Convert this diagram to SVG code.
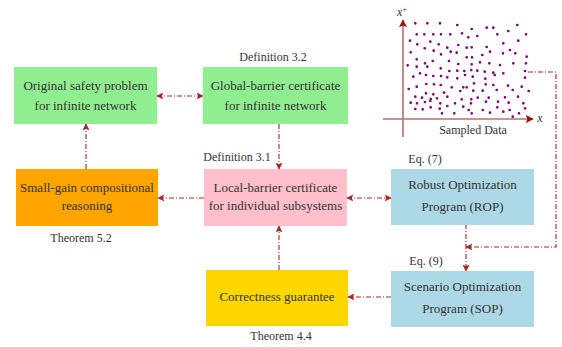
<svg xmlns="http://www.w3.org/2000/svg" width="562" height="347" viewBox="0 0 562 347">
<style>
.t{font-family:'Liberation Serif',serif;font-size:13px;fill:#333;text-anchor:middle}
.l{font-family:'Liberation Serif',serif;font-size:12px;fill:#333;text-anchor:middle}
.v{font-family:'Liberation Serif',serif;font-size:12px;font-style:italic;fill:#333;text-anchor:middle}
.c{fill:none;stroke:#b22222;stroke-width:1.1;stroke-dasharray:5,2,1,2}
.ax{stroke:#b87070;stroke-width:1.6;fill:none}
</style>
<defs>
<marker id="ah" viewBox="0 0 10 10" refX="9" refY="5" markerWidth="7" markerHeight="7" markerUnits="userSpaceOnUse" orient="auto-start-reverse">
<path d="M0,0 L10,5 L0,10 L2,5 z" fill="#b22222"/>
</marker>
<marker id="axh" viewBox="0 0 10 10" refX="9" refY="5" markerWidth="8" markerHeight="8" markerUnits="userSpaceOnUse" orient="auto">
<path d="M0,0 L10,5 L0,10 L2,5 z" fill="#a01010"/>
</marker>
</defs>
<rect width="562" height="347" fill="#fff"/>

<g id="connectors">
<path class="c" d="M157,96 H203" marker-start="url(#ah)" marker-end="url(#ah)"/>
<path class="c" d="M279,124 V169" marker-end="url(#ah)"/>
<path class="c" d="M204,198 H158" marker-end="url(#ah)"/>
<path class="c" d="M86,169 V124" marker-end="url(#ah)"/>
<path class="c" d="M347,198 H391" marker-start="url(#ah)" marker-end="url(#ah)"/>
<path class="c" d="M466,224 V271" marker-end="url(#ah)"/>
<path class="c" d="M528,72 H556 V247 H466" marker-end="url(#ah)"/>
<path class="c" d="M391,297 H348" marker-end="url(#ah)"/>
<path class="c" d="M279,270 V226" marker-end="url(#ah)"/>
</g>

<g id="original">
<rect x="14" y="67" width="143" height="57" fill="#90ee90"/>
<text class="t" x="85.5" y="90">Original safety problem</text>
<text class="t" x="85.5" y="110">for infinite network</text>
</g>
<g id="global">
<rect x="203" y="67" width="145" height="57" fill="#90ee90"/>
<text class="l" x="273" y="61">Definition 3.2</text>
<text class="t" x="275.5" y="90">Global-barrier certificate</text>
<text class="t" x="275.5" y="110">for infinite network</text>
</g>
<g id="smallgain">
<rect x="16" y="169" width="142" height="57" fill="#ffa500"/>
<text class="t" x="87" y="192">Small-gain compositional</text>
<text class="t" x="87" y="210">reasoning</text>
<text class="l" x="81" y="242">Theorem 5.2</text>
</g>
<g id="local">
<rect x="204" y="169" width="143" height="57" fill="#ffc0cb"/>
<text class="l" x="237" y="161">Definition 3.1</text>
<text class="t" x="275.5" y="192">Local-barrier certificate</text>
<text class="t" x="275.5" y="210">for individual subsystems</text>
</g>
<g id="rop">
<rect x="391" y="169" width="143" height="56" fill="#add8e6"/>
<text class="l" x="425" y="163">Eq. (7)</text>
<text class="t" x="462.5" y="189">Robust Optimization</text>
<text class="t" x="462.5" y="211">Program (ROP)</text>
</g>
<g id="sop">
<rect x="391" y="271" width="143" height="56" fill="#add8e6"/>
<text class="l" x="426" y="265">Eq. (9)</text>
<text class="t" x="462.5" y="291">Scenario Optimization</text>
<text class="t" x="462.5" y="313">Program (SOP)</text>
</g>
<g id="correctness">
<rect x="206" y="270" width="142" height="56" fill="#ffd700"/>
<text class="t" x="277" y="301">Correctness guarantee</text>
<text class="l" x="281" y="340">Theorem 4.4</text>
</g>

<g id="plot">
<path class="ax" d="M403,137 V20" marker-end="url(#axh)"/>
<path class="ax" d="M383,119 H533" marker-end="url(#axh)"/>
<text class="v" x="402" y="16">x<tspan dy="-4" style="font-size:8px;font-style:normal">+</tspan></text>
<text class="v" x="540" y="122">x</text>
<text class="l" x="473" y="134">Sampled Data</text>
<path fill="none" stroke="#800080" stroke-width="2.7" stroke-linecap="round" d="M415.3,23.3h0M427.3,23.3h0M440,23.3h0M457.3,25h0M471.7,29h0M486.7,27.7h0M493.3,27.7h0M508.3,31h0M517.3,25h0
M416.7,34.3h0M424.3,34.3h0M433.3,34.3h0M441,34.3h0M450.3,34.3h0M462,33.3h0M468.3,37.3h0M477.3,36h0M497.3,34.3h0M526,34.3h0
M410,40.7h0M417.3,44.3h0M430.3,41.7h0M438.7,44.3h0M447.3,47.7h0M458.3,45h0M466.7,47.7h0M471.7,47.3h0M486.7,47h0M503.3,43.3h0M518.3,40.7h0
M410.7,52.3h0M424.7,48.3h0M433.7,50.7h0M441,54.3h0M450.7,51.7h0M456.7,52.7h0M466.7,57.3h0M472,57.3h0M482.3,55h0M490,51.7h0M503,53.3h0M510,50h0M515.3,53.3h0M526.7,56.7h0
M416.7,59.3h0M432.7,61h0M425,63.3h0M449,61h0M458.3,64h0M471.7,64.3h0M480,62.3h0M489.3,63.3h0M500,65h0M513.3,63.3h0M526,63.3h0
M407.7,65.3h0M416.7,66.7h0M427.3,66.7h0M440.7,68.3h0M449.3,71h0M457.3,70.7h0M464.3,71h0M471.3,70h0M477.3,70.7h0M484.7,71.7h0M493.3,72.7h0M503.3,73.3h0M525,71h0
M413.3,76.7h0M420,73.3h0M426,75h0M433.3,76h0M441,76h0M447.3,77.3h0M457.3,78.3h0M465,75h0M472.7,76.7h0M485.3,78.7h0M494.7,75h0M525,77.7h0
M426.3,84h0M434,84.3h0M440.7,85h0M451.7,87.3h0M463.3,87.3h0M474,83.3h0M485.7,84.3h0M493.3,85h0M508,85.7h0M521.7,86.7h0
M408.7,89h0M416.7,86.7h0M426,93.3h0M433.3,94.3h0M444,92.7h0M460.3,91h0M466.7,87.3h0M473.3,90.7h0M482.7,90.7h0M496.7,90h0M512.7,90h0M528.7,91h0
M415.3,96.7h0M422,97.7h0M430.7,99h0M437,98.3h0M447.3,96.7h0M461.7,99.3h0M471.3,99.3h0M477.7,97.7h0M488.7,97.7h0M505,97.3h0M518,96.7h0
M410.7,102.7h0M417,103.3h0M425,102h0M430.3,101h0M440.3,103.3h0M455,103.3h0M463.3,106.7h0M471,103.3h0M486,101.7h0M498,101.7h0M508.7,102.7h0M523.3,103.3h0
M415.3,109h0M422.7,109.3h0M430.7,107.3h0M439.7,108.7h0M447.3,106h0M468.7,110h0M482.7,110h0M497.3,107.3h0M509.7,110h0M519,113.3h0M525,108.3h0
M442,113.3h0M454.3,113.3h0M471.7,113.3h0M490,112.7h0M503.3,111.7h0M512.7,116.7h0"/>
</g>
</svg>
